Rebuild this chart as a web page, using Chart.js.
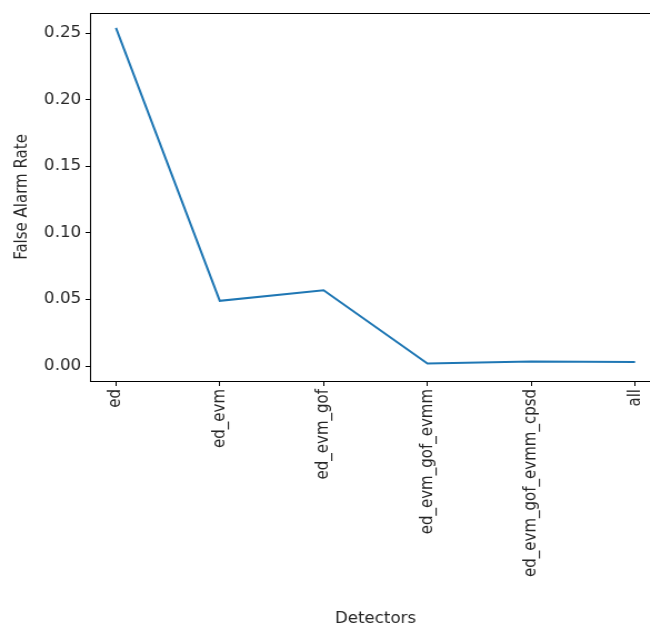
<!DOCTYPE html>
<html>
<head>
<meta charset="utf-8">
<script src="https://cdn.jsdelivr.net/npm/chart.js@4"></script>
<style>
  html, body { margin: 0; padding: 0; background: white; overflow: hidden; width: 650px; height: 631px; }
  /* a figura original e um pouco esticada na horizontal e cortada a direita */
  #grafico { width: 661px !important; height: 631px !important; display: block; }
</style>
</head>
<body>
<canvas id="grafico" width="595" height="631"></canvas>
<script>
// dados
var detectores = ['ed', 'ed_evm', 'ed_evm_gof', 'ed_evm_gof_evmm', 'ed_evm_gof_evmm_cpsd', 'all'];
var taxaFalsoAlarme = [0.254, 0.049, 0.057, 0.002, 0.0035, 0.003];
var yTicks = [0, 0.05, 0.10, 0.15, 0.20, 0.25];

var corTexto = '#262626';
var fonte = { family: 'DejaVu Sans', size: 15 };

// moldura em volta da area do grafico (estilo matplotlib)
var moldura = {
    id: 'moldura',
    afterDraw: function(chart) {
        var a = chart.chartArea;
        var ctx = chart.ctx;
        ctx.save();
        ctx.strokeStyle = '#000';
        ctx.lineWidth = 1;
        ctx.strokeRect(a.left + 0.5, a.top + 0.5, a.right - a.left - 1, a.bottom - a.top);
        ctx.restore();
    }
};

var pontos = taxaFalsoAlarme.map(function(v, i) { return { x: i, y: v }; });

var ctx = document.getElementById('grafico').getContext('2d');
var meuGrafico = new Chart(ctx, {
    type: 'line',
    data: {
        datasets: [{
            data: pontos,
            borderColor: '#1f77b4',
            borderWidth: 2,
            pointRadius: 0,
            tension: 0,
            fill: false
        }]
    },
    options: {
        responsive: false,
        animation: false,
        devicePixelRatio: 1,
        layout: { padding: { top: 12, right: 0, left: 0, bottom: 0 } },
        plugins: { legend: { display: false }, tooltip: { enabled: false } },
        scales: {
            x: {
                type: 'linear',
                min: -0.25,
                max: 5.25,
                afterBuildTicks: function(axis) {
                    axis.ticks = detectores.map(function(d, i) { return { value: i }; });
                },
                afterFit: function(axis) {
                    axis.height = 250;
                    axis.paddingLeft = 0;
                    axis.paddingRight = 0;
                },
                grid: { drawOnChartArea: false, tickLength: 5, tickColor: '#000', color: '#000' },
                border: { display: false },
                ticks: {
                    font: fonte,
                    color: corTexto,
                    minRotation: 90,
                    maxRotation: 90,
                    padding: 3,
                    callback: function(v) { return detectores[v]; }
                },
                title: {
                    display: true,
                    text: 'Detectors',
                    font: fonte,
                    color: corTexto,
                    padding: { top: 3, bottom: 3 }
                }
            },
            y: {
                min: -0.0112,
                max: 0.2652,
                afterBuildTicks: function(axis) {
                    axis.ticks = yTicks.map(function(v) { return { value: v }; });
                },
                afterFit: function(axis) { axis.width = 81; },
                grid: { drawOnChartArea: false, tickLength: 4, tickColor: '#000', color: '#000' },
                border: { display: false },
                ticks: {
                    font: fonte,
                    color: corTexto,
                    padding: 4,
                    callback: function(v) { return v.toFixed(2); }
                },
                title: {
                    display: true,
                    text: 'False Alarm Rate',
                    font: fonte,
                    color: corTexto,
                    padding: { top: 11, bottom: 4 }
                }
            }
        }
    },
    plugins: [moldura]
});
</script>
</body>
</html>
